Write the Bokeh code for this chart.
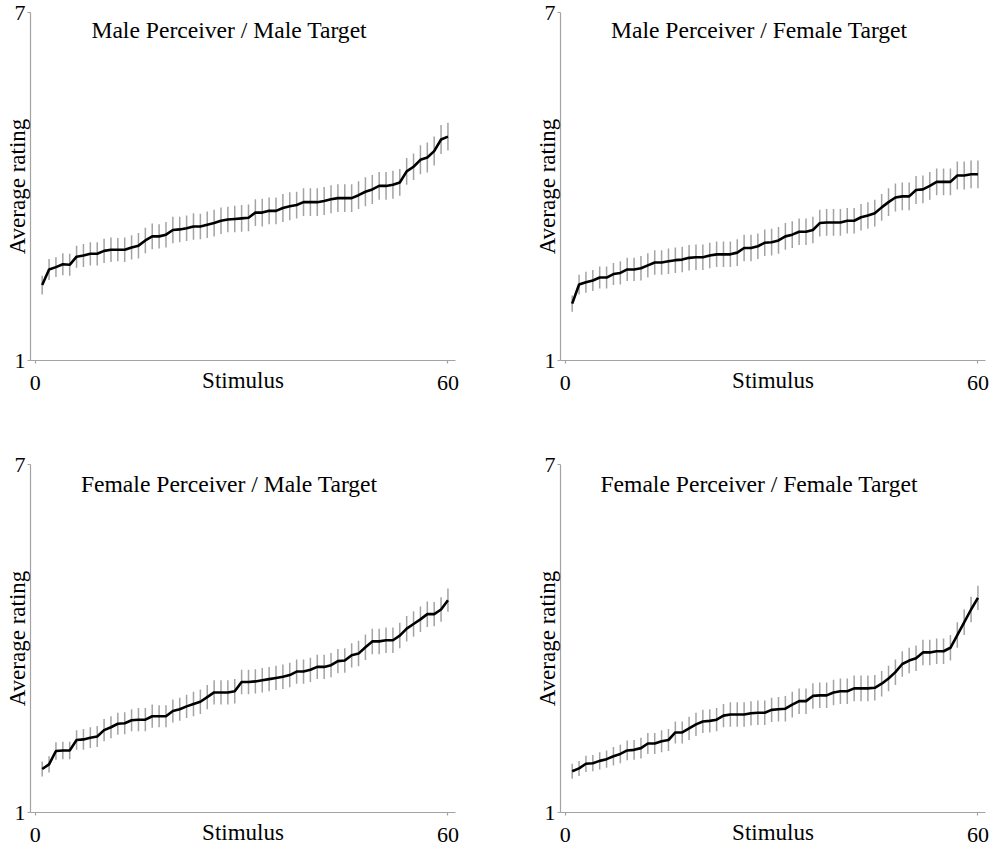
from bokeh.plotting import figure
from bokeh.models import Range1d, Label
from bokeh.layouts import column, row
from bokeh.embed import file_html
from bokeh.resources import INLINE

STIMULUS = list(range(1, 61))

TITLES = [
    "Male Perceiver / Male Target",
    "Male Perceiver / Female Target",
    "Female Perceiver / Male Target",
    "Female Perceiver / Female Target",
]

MM_MEAN = [2.30, 2.57, 2.61, 2.66, 2.65, 2.79, 2.81, 2.84, 2.84, 2.89,
           2.91, 2.91, 2.91, 2.95, 2.98, 3.07, 3.14, 3.14, 3.17, 3.25,
           3.26, 3.28, 3.31, 3.31, 3.34, 3.37, 3.41, 3.43, 3.44, 3.45,
           3.46, 3.55, 3.55, 3.58, 3.58, 3.63, 3.66, 3.68, 3.73, 3.73,
           3.73, 3.75, 3.78, 3.80, 3.80, 3.80, 3.85, 3.91, 3.95, 4.01,
           4.01, 4.03, 4.07, 4.26, 4.34, 4.46, 4.50, 4.61, 4.81, 4.86]
MM_ERR = [0.16, 0.18, 0.17, 0.19, 0.19, 0.19, 0.20, 0.20, 0.20, 0.21,
          0.21, 0.20, 0.21, 0.21, 0.22, 0.22, 0.22, 0.21, 0.22, 0.23,
          0.22, 0.22, 0.23, 0.22, 0.23, 0.23, 0.23, 0.22, 0.23, 0.23,
          0.23, 0.23, 0.24, 0.23, 0.23, 0.24, 0.24, 0.23, 0.24, 0.24,
          0.24, 0.24, 0.24, 0.24, 0.24, 0.24, 0.24, 0.25, 0.25, 0.24,
          0.24, 0.24, 0.23, 0.23, 0.23, 0.25, 0.26, 0.25, 0.25, 0.24]

MF_MEAN = [1.98, 2.31, 2.35, 2.38, 2.43, 2.43, 2.49, 2.51, 2.57, 2.57,
           2.59, 2.64, 2.69, 2.69, 2.71, 2.73, 2.74, 2.77, 2.78, 2.78,
           2.81, 2.83, 2.83, 2.83, 2.86, 2.94, 2.94, 2.97, 3.03, 3.04,
           3.07, 3.14, 3.17, 3.22, 3.22, 3.25, 3.37, 3.38, 3.38, 3.38,
           3.41, 3.41, 3.47, 3.50, 3.54, 3.64, 3.73, 3.81, 3.83, 3.83,
           3.94, 3.95, 4.01, 4.08, 4.08, 4.08, 4.19, 4.19, 4.21, 4.21]
MF_ERR = [0.14, 0.17, 0.18, 0.18, 0.19, 0.19, 0.19, 0.20, 0.20, 0.20,
          0.21, 0.21, 0.21, 0.21, 0.22, 0.22, 0.22, 0.22, 0.22, 0.22,
          0.22, 0.22, 0.22, 0.22, 0.23, 0.23, 0.23, 0.22, 0.23, 0.23,
          0.23, 0.23, 0.23, 0.23, 0.23, 0.23, 0.23, 0.23, 0.23, 0.23,
          0.22, 0.22, 0.23, 0.23, 0.23, 0.23, 0.24, 0.24, 0.24, 0.24,
          0.24, 0.24, 0.24, 0.23, 0.23, 0.23, 0.24, 0.24, 0.24, 0.24]

FM_MEAN = [1.75, 1.83, 2.06, 2.07, 2.07, 2.25, 2.26, 2.29, 2.31, 2.42,
           2.47, 2.53, 2.54, 2.59, 2.60, 2.60, 2.66, 2.66, 2.66, 2.75,
           2.78, 2.83, 2.87, 2.91, 2.99, 3.07, 3.07, 3.07, 3.09, 3.25,
           3.25, 3.26, 3.28, 3.30, 3.32, 3.34, 3.37, 3.43, 3.43, 3.46,
           3.51, 3.51, 3.54, 3.61, 3.62, 3.71, 3.74, 3.85, 3.95, 3.95,
           3.97, 3.97, 4.05, 4.17, 4.25, 4.33, 4.42, 4.42, 4.50, 4.66]
FM_ERR = [0.13, 0.14, 0.15, 0.15, 0.15, 0.17, 0.18, 0.18, 0.18, 0.19,
          0.19, 0.19, 0.19, 0.19, 0.20, 0.20, 0.20, 0.19, 0.19, 0.20,
          0.20, 0.20, 0.21, 0.21, 0.21, 0.21, 0.21, 0.21, 0.21, 0.21,
          0.21, 0.21, 0.21, 0.21, 0.21, 0.21, 0.21, 0.21, 0.21, 0.21,
          0.21, 0.21, 0.21, 0.21, 0.21, 0.21, 0.22, 0.22, 0.22, 0.22,
          0.22, 0.22, 0.22, 0.22, 0.22, 0.22, 0.22, 0.21, 0.21, 0.20]

FF_MEAN = [1.71, 1.76, 1.84, 1.85, 1.89, 1.92, 1.97, 2.01, 2.07, 2.08,
           2.11, 2.19, 2.19, 2.23, 2.25, 2.38, 2.38, 2.45, 2.52, 2.57,
           2.58, 2.60, 2.67, 2.69, 2.69, 2.69, 2.71, 2.72, 2.72, 2.77,
           2.78, 2.79, 2.86, 2.92, 2.92, 3.01, 3.02, 3.02, 3.07, 3.09,
           3.09, 3.14, 3.14, 3.14, 3.15, 3.22, 3.31, 3.42, 3.56, 3.62,
           3.66, 3.76, 3.76, 3.78, 3.78, 3.84, 4.06, 4.28, 4.50, 4.70]
FF_ERR = [0.13, 0.13, 0.14, 0.14, 0.15, 0.15, 0.16, 0.16, 0.17, 0.17,
          0.18, 0.18, 0.18, 0.19, 0.19, 0.19, 0.19, 0.20, 0.20, 0.20,
          0.20, 0.20, 0.20, 0.21, 0.21, 0.21, 0.21, 0.21, 0.21, 0.21,
          0.21, 0.22, 0.22, 0.22, 0.22, 0.22, 0.22, 0.22, 0.22, 0.22,
          0.22, 0.22, 0.22, 0.22, 0.22, 0.22, 0.22, 0.22, 0.22, 0.22,
          0.22, 0.22, 0.22, 0.22, 0.22, 0.22, 0.22, 0.22, 0.22, 0.21]

X_TICKS = [0, 60]
Y_TICKS = [1, 7]
X_LABEL = "Stimulus"
Y_LABEL = "Average rating"

FONT = "Liberation Serif"
AXIS_COLOR = "#a3a3a3"
BAR_COLOR = "#a3a3a3"


def make_panel(title, title_y, means, errs, width, height, bl, br, bt, bb):
    p = figure(width=width, height=height, output_backend="svg",
               toolbar_location=None,
               x_range=Range1d(-0.7, 61.1), y_range=Range1d(1, 7),
               min_border_left=bl, min_border_right=br,
               min_border_top=bt, min_border_bottom=bb)
    p.outline_line_color = None
    p.xgrid.visible = False
    p.ygrid.visible = False
    p.background_fill_color = "white"
    p.border_fill_color = "white"

    for ax, ticks in ((p.xaxis, X_TICKS), (p.yaxis, Y_TICKS)):
        ax.ticker = ticks
        ax.axis_line_color = AXIS_COLOR
        ax.axis_line_width = 1.2
        ax.major_tick_line_color = AXIS_COLOR
        ax.major_tick_line_width = 1.2
        ax.major_tick_in = 0
        ax.major_tick_out = 3
        ax.minor_tick_line_color = None
        ax.major_label_text_font = FONT
        ax.major_label_text_font_size = "22px"
        ax.major_label_text_color = "black"
        ax.axis_label_text_font = FONT
        ax.axis_label_text_font_size = "23px"
        ax.axis_label_text_font_style = "normal"
        ax.axis_label_text_color = "black"
    p.xaxis.major_label_standoff = 12
    p.yaxis.major_label_standoff = 2
    p.xaxis.axis_label = X_LABEL
    p.yaxis.axis_label = Y_LABEL
    p.xaxis.axis_label_standoff = -25
    p.yaxis.axis_label_standoff = -18

    lo = [m - e for m, e in zip(means, errs)]
    hi = [m + e for m, e in zip(means, errs)]
    p.segment(STIMULUS, lo, STIMULUS, hi, line_color=BAR_COLOR, line_width=1.5)
    p.line(STIMULUS, means, line_color="black", line_width=2.6)

    p.add_layout(Label(x=28.2, y=title_y, text=title, text_align="center",
                       text_baseline="alphabetic", text_font=FONT,
                       text_font_size="23.6px", text_color="black"))
    return p


p1 = make_panel(TITLES[0], 6.70, MM_MEAN, MM_ERR, 475, 402, 30, 20, 12, 42)
p2 = make_panel(TITLES[1], 6.70, MF_MEAN, MF_ERR, 517, 402, 85, 7, 12, 42)
p3 = make_panel(TITLES[2], 6.67, FM_MEAN, FM_ERR, 475, 450, 30, 20, 62, 40)
p4 = make_panel(TITLES[3], 6.67, FF_MEAN, FF_ERR, 517, 450, 85, 7, 62, 40)

layout = column(row(p1, p2), row(p3, p4))

open("out.html", "w").write(file_html(layout, INLINE))
